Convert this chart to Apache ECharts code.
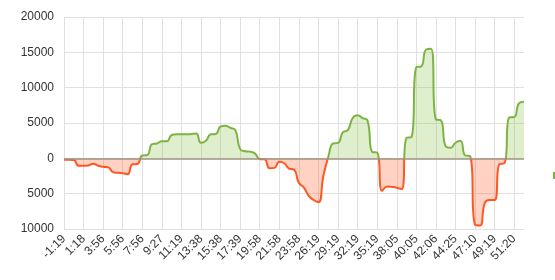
<!DOCTYPE html>
<html><head><meta charset="utf-8">
<script src="https://cdn.jsdelivr.net/npm/echarts@6/dist/echarts.min.js"></script>
<style>html,body{margin:0;padding:0;background:#fff}#c{width:555px;height:280px}</style>
</head><body><div id="c"></div>
<script>
var times = ['-1:19','-0:40','0:00','0:39','1:18','1:58','2:37','3:17','3:56','4:26','4:56','5:26','5:56','6:26','6:56','7:26',
'7:56','8:19','8:42','9:04','9:27','9:55','10:23','10:51','11:19','11:54','12:29','13:03','13:38','14:08','14:38','15:08',
'15:38','16:08','16:38','17:09','17:39','18:14','18:49','19:23','19:58','20:28','20:58','21:28','21:58','22:28','22:58','23:28',
'23:58','24:33','25:08','25:44','26:19','27:04','27:49','28:34','29:19','30:04','30:49','31:34','32:19','33:04','33:49','34:34',
'35:19','36:00','36:42','37:23','38:05','38:35','39:05','39:35','40:05','40:35','41:05','41:36','42:06','42:41','43:16','43:50',
'44:25','45:06','45:47','46:29','47:10','47:42','48:15','48:47','49:19','49:49','50:19','50:50','51:20','51:50','52:20'];
var goldDiff = [-200,-200,-250,-1050,-1050,-1000,-750,-1050,-1200,-1250,-1950,-2050,-2100,-2250,-850,-800,
400,450,2000,2100,2400,2400,3300,3400,3400,3400,3450,3500,2200,2500,3400,3450,
4500,4600,4300,4000,1300,1000,950,700,-100,-150,-1400,-1350,-500,-700,-1450,-1600,
-3500,-4100,-5300,-5900,-6200,-2500,200,2100,2200,3700,4000,5700,6100,5700,5400,900,
800,-4600,-4000,-4050,-4150,-4350,2900,3000,12900,13000,15400,15500,5500,5400,1700,1500,
2200,2500,400,300,-9400,-9500,-6300,-5900,-5900,-800,-700,5800,5850,7800,8000];
var yMin = -10000, yMax = 20000, yStep = 5000;
var greenColor = '#7cb342', redColor = '#ff5722';
var greenArea = 'rgba(139,195,74,0.4)', redArea = 'rgba(255,87,34,0.38)';

var gridTop = 17, gridBottom = 51, H = 280;
var zeroFrac = (yMax - 0) / (yMax - yMin);
function split(top, bottom) {
  return new echarts.graphic.LinearGradient(0, gridTop, 0, H - gridBottom, [
    {offset: 0, color: top}, {offset: zeroFrac, color: top},
    {offset: zeroFrac, color: bottom}, {offset: 1, color: bottom}
  ], true);
}

var chart = echarts.init(document.getElementById('c'), null, {renderer:'canvas'});
chart.setOption({
  animation: false,
  textStyle: {fontFamily: 'Arial, "Liberation Sans", sans-serif'},
  grid: {left: 64, right: 31, top: gridTop, bottom: gridBottom},
  xAxis: {
    type: 'category', data: times, boundaryGap: false,
    axisLine: {show: true, lineStyle: {color: '#e0e0e0'}},
    axisTick: {show: false},
    axisLabel: {interval: 3, rotate: 45, color: '#333', fontSize: 12, margin: 8},
    splitLine: {show: true, interval: 3, lineStyle: {color: '#e0e0e0'}}
  },
  yAxis: {
    type: 'value', min: yMin, max: yMax, interval: yStep,
    axisLine: {show: false}, axisTick: {show: false},
    axisLabel: {color: '#333', fontSize: 12, margin: 10, formatter: function(v){return String(Math.abs(v));}},
    splitLine: {lineStyle: {color: '#e0e0e0'}}
  },
  series: [{
    type: 'line', data: goldDiff, smooth: true, symbol: 'none',
    lineStyle: {width: 2, color: split(greenColor, redColor)},
    areaStyle: {color: split(greenArea, redArea)},
    markLine: {
      silent: true, symbol: 'none', label: {show: false},
      lineStyle: {color: '#9e9680', width: 1.5, type: 'solid'},
      data: [{yAxis: 0}]
    }
  }],
  graphic: [{type: 'rect', left: 553, top: 172, shape: {width: 2, height: 7}, style: {fill: greenColor}}]
});
</script></body></html>
